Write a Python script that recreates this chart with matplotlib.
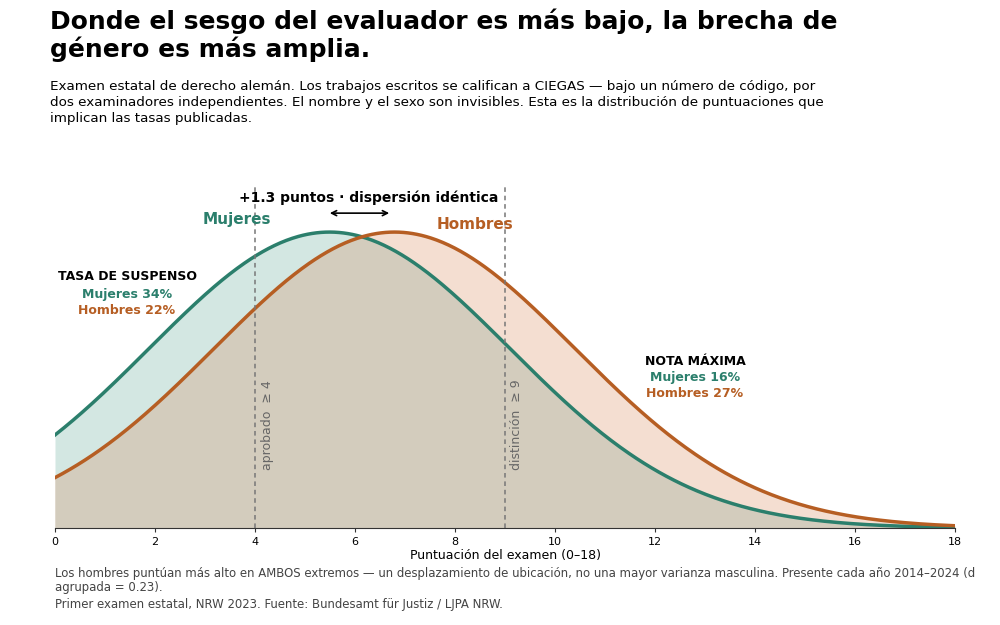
"""Brecha de genero: distribuciones implicitas de puntuacion."""

import matplotlib
matplotlib.use("Agg")
import matplotlib.pyplot as plt
import numpy as np

MEAN_W = 5.49
MEAN_M = 6.79
SD = 3.61
PASS_MARK = 4
DIST_MARK = 9
fail_rates = {"Mujeres": 34, "Hombres": 22}
top_rates = {"Mujeres": 16, "Hombres": 27}
xticks = [0, 2, 4, 6, 8, 10, 12, 14, 16, 18]

TEAL = "#2b7f6c"
ORANGE = "#b65e23"
TEAL_FILL = "#d3e7e2"
ORANGE_FILL = "#f4ded1"
OVERLAP = "#d3ccbd"


def pdf(x, mu, sd):
    """normal density"""
    return np.exp(-0.5 * ((x - mu) / sd) ** 2) / (sd * np.sqrt(2 * np.pi))


x = np.linspace(0, 18, 600)
y_w = pdf(x, MEAN_W, SD)
y_m = pdf(x, MEAN_M, SD)
peak = y_w.max()

fig = plt.figure(figsize=(10, 6.25), dpi=100)
ax = fig.add_axes([0.055, 0.155, 0.9, 0.549])

ax.fill_between(x, 0, y_w, color=TEAL_FILL, lw=0)
ax.fill_between(x, 0, y_m, color=ORANGE_FILL, lw=0)
ax.fill_between(x, 0, np.minimum(y_w, y_m), color=OVERLAP, lw=0)
ax.plot(x, y_w, color=TEAL, lw=2.5)
ax.plot(x, y_m, color=ORANGE, lw=2.5)

ymax = peak * 1.159
ax.set_xlim(0, 18)
ax.set_ylim(0, ymax)

for xv in (PASS_MARK, DIST_MARK):
    ax.axvline(xv, color="#777777", ls="--", lw=1.1, dashes=(3, 2.5))
ax.text(PASS_MARK + 0.24, ymax * 0.169, "aprobado  \u2265 4", rotation=90,
        ha="center", va="bottom", fontsize=9, color="#666666")
ax.text(DIST_MARK + 0.24, ymax * 0.169, "distinci\u00f3n  \u2265 9", rotation=90,
        ha="center", va="bottom", fontsize=9, color="#666666")

ax.text(3.64, ymax * 0.898, "Mujeres", color=TEAL, fontsize=11,
        fontweight="bold", ha="center", va="center")
ax.text(8.4, ymax * 0.884, "Hombres", color=ORANGE, fontsize=11,
        fontweight="bold", ha="center", va="center")

ax.text(6.28, ymax * 0.962, "+1.3 puntos \u00b7 dispersi\u00f3n id\u00e9ntica",
        fontsize=10, fontweight="bold", ha="center", va="center")
ax.annotate("", xy=(MEAN_M - 0.05, ymax * 0.918),
            xytext=(MEAN_W - 0.05, ymax * 0.918),
            arrowprops=dict(arrowstyle="<->", color="black", lw=1.2,
                            mutation_scale=9))

ax.text(1.44, ymax * 0.732, "TASA DE SUSPENSO", fontsize=9,
        fontweight="bold", ha="center", va="center")
ax.text(1.44, ymax * 0.682, f"Mujeres {fail_rates['Mujeres']}%", fontsize=9,
        fontweight="bold", ha="center", va="center", color=TEAL)
ax.text(1.44, ymax * 0.635, f"Hombres {fail_rates['Hombres']}%", fontsize=9,
        fontweight="bold", ha="center", va="center", color=ORANGE)

ax.text(12.8, ymax * 0.486, "NOTA M\u00c1XIMA", fontsize=9,
        fontweight="bold", ha="center", va="center")
ax.text(12.8, ymax * 0.438, f"Mujeres {top_rates['Mujeres']}%", fontsize=9,
        fontweight="bold", ha="center", va="center", color=TEAL)
ax.text(12.8, ymax * 0.392, f"Hombres {top_rates['Hombres']}%", fontsize=9,
        fontweight="bold", ha="center", va="center", color=ORANGE)

for side in ("top", "right", "left"):
    ax.spines[side].set_visible(False)
ax.spines["bottom"].set_color("#333333")
ax.set_yticks([])
ax.set_xticks(xticks)
ax.tick_params(axis="x", labelsize=8, length=3, color="#333333")
ax.set_xlabel("Puntuaci\u00f3n del examen (0\u201318)", fontsize=9, labelpad=1)

fig.text(0.05, 0.987, "Donde el sesgo del evaluador es m\u00e1s bajo, la brecha de\n"
         "g\u00e9nero es m\u00e1s amplia.", fontsize=18, fontweight="bold",
         va="top", ha="left", linespacing=1.15)
fig.text(0.05, 0.872,
         "Examen estatal de derecho alem\u00e1n. Los trabajos escritos se califican a CIEGAS \u2014 bajo un n\u00famero de c\u00f3digo, por\n"
         "dos examinadores independientes. El nombre y el sexo son invisibles. Esta es la distribuci\u00f3n de puntuaciones que\n"
         "implican las tasas publicadas.",
         fontsize=9.7, va="top", ha="left", linespacing=1.28)

fig.text(0.055, 0.093,
         "Los hombres punt\u00faan m\u00e1s alto en AMBOS extremos \u2014 un desplazamiento de ubicaci\u00f3n, no una mayor varianza masculina. Presente cada a\u00f1o 2014\u20132024 (d\n"
         "agrupada = 0.23).",
         fontsize=9.4, va="top", ha="left", color="#444444",
         fontstretch="condensed", linespacing=1.15)
fig.text(0.055, 0.022, "Primer examen estatal, NRW 2023. Fuente: Bundesamt f\u00fcr Justiz / LJPA NRW.",
         fontsize=9.4, va="bottom", ha="left", color="#444444",
         fontstretch="condensed")

fig.savefig("out.png", dpi=100)
